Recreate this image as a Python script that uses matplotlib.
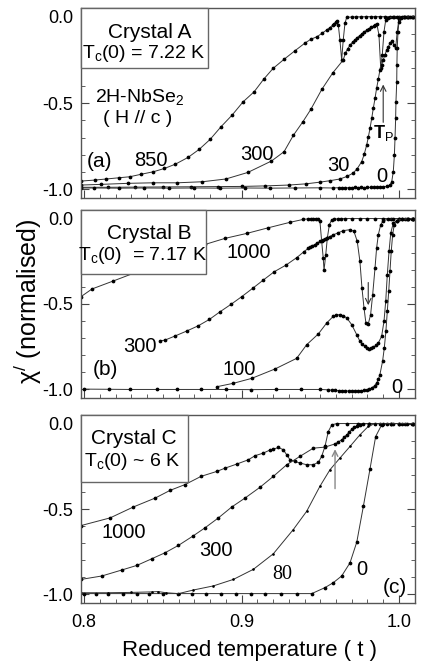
import matplotlib
matplotlib.use("Agg")
import matplotlib.pyplot as plt
from matplotlib.ticker import MultipleLocator
from matplotlib.patches import Rectangle

# === FUENTES ===
plt.rcParams['font.family'] = ['Liberation Sans', 'DejaVu Sans']
plt.rcParams['mathtext.fontset'] = 'custom'
plt.rcParams['mathtext.rm'] = 'Liberation Sans'
plt.rcParams['mathtext.it'] = 'Liberation Sans:italic'

# === DATOS: panel (a) Crystal A ===
a850_t = [0.798, 0.807, 0.814, 0.822, 0.829, 0.836, 0.844, 0.851, 0.858, 0.866, 0.873, 0.880,
          0.887, 0.894, 0.901, 0.908, 0.914, 0.920, 0.927, 0.934, 0.940, 0.944, 0.948, 0.951,
          0.954, 0.956, 0.958, 0.959, 0.960, 0.9608, 0.9615, 0.9625, 0.9636, 0.9646, 0.9657,
          0.9668, 0.970, 0.973, 0.976, 0.979, 0.982, 0.985, 0.988, 0.991, 0.994, 0.997, 1.000,
          1.003, 1.006, 1.009]
a850_x = [-0.952, -0.946, -0.940, -0.933, -0.927, -0.913, -0.898, -0.879, -0.854, -0.815, -0.769,
          -0.711, -0.637, -0.570, -0.493, -0.435, -0.363, -0.300, -0.247, -0.197, -0.155, -0.131,
          -0.116, -0.097, -0.078, -0.064, -0.049, -0.040, -0.030, -0.024, -0.050, -0.135, -0.251,
          -0.135, -0.039, -0.004, -0.002, -0.001, -0.001, 0.0, 0.0, 0.0, 0.0, 0.0, 0.0, 0.0, 0.0,
          0.0, 0.0, 0.0]

a300_t = [0.798, 0.811, 0.828, 0.844, 0.859, 0.875, 0.890, 0.904, 0.919, 0.927, 0.933, 0.939,
          0.944, 0.951, 0.958, 0.9646, 0.966, 0.9675, 0.969, 0.9705, 0.972, 0.9735, 0.975, 0.9765,
          0.978, 0.9795, 0.981, 0.9825, 0.984, 0.985, 0.986, 0.9873, 0.9884, 0.9894, 0.9905,
          0.9916, 0.9932, 0.996, 0.999, 1.002, 1.005, 1.008]
a300_x = [-0.975, -0.971, -0.965, -0.962, -0.962, -0.956, -0.940, -0.902, -0.836, -0.782, -0.686,
          -0.608, -0.537, -0.421, -0.325, -0.251, -0.210, -0.185, -0.164, -0.148, -0.135, -0.122,
          -0.110, -0.099, -0.088, -0.078, -0.069, -0.061, -0.053, -0.048, -0.044, -0.107, -0.295,
          -0.222, -0.087, -0.020, -0.006, -0.003, -0.002, -0.001, 0.0, 0.0]

a30_t = [0.798, 0.815, 0.832, 0.850, 0.868, 0.885, 0.900, 0.915, 0.930, 0.941, 0.950, 0.956,
         0.9625, 0.967, 0.971, 0.9735, 0.9763, 0.978, 0.9795, 0.9806, 0.9816, 0.9827, 0.9837,
         0.9848, 0.9858, 0.9869, 0.9879, 0.989, 0.990, 0.9911, 0.9922, 0.9933, 0.9943, 0.9957,
         0.9970, 0.9979, 0.9989, 1.000, 1.003, 1.006, 1.009]
a30_x = [-0.988, -0.988, -0.987, -0.986, -0.985, -0.984, -0.983, -0.980, -0.975, -0.968, -0.958,
         -0.950, -0.940, -0.925, -0.905, -0.880, -0.840, -0.795, -0.743, -0.695, -0.647, -0.589,
         -0.531, -0.473, -0.415, -0.362, -0.309, -0.280, -0.251, -0.222, -0.193, -0.174, -0.155,
         -0.141, -0.164, -0.184, -0.087, -0.014, -0.003, -0.001, 0.0]

a0_t = [0.798, 0.806, 0.822, 0.838, 0.854, 0.870, 0.886, 0.902, 0.918, 0.934, 0.950, 0.958,
        0.962, 0.964, 0.966, 0.968, 0.970, 0.972, 0.974, 0.976, 0.978, 0.980, 0.982, 0.984,
        0.986, 0.988, 0.990, 0.9922, 0.9943, 0.9954, 0.9964, 0.9971, 0.9975, 0.9979, 0.9981,
        0.9986, 0.9987, 0.9989, 0.9994, 1.000, 1.0013, 1.004, 1.007, 1.010]
a0_x = [-0.992, -0.992, -0.993, -0.992, -0.993, -0.992, -0.993, -0.992, -0.993, -0.992, -0.991,
        -0.992, -0.990, -0.991, -0.990, -0.991, -0.990, -0.989, -0.990, -0.989, -0.990, -0.988,
        -0.989, -0.988, -0.987, -0.987, -0.985, -0.983, -0.975, -0.956, -0.898, -0.801, -0.705,
        -0.589, -0.493, -0.377, -0.280, -0.184, -0.087, -0.030, -0.010, -0.003, -0.001, 0.0]

# === DATOS: panel (b) Crystal B ===
b1000_t = [0.798, 0.805, 0.8186, 0.840, 0.860, 0.877, 0.8895, 0.9033, 0.917, 0.9308, 0.9392,
           0.942, 0.944, 0.9456, 0.947, 0.9485, 0.9498, 0.9509, 0.9519, 0.9524, 0.9535, 0.9545,
           0.9558, 0.9573, 0.959, 0.961, 0.963, 0.966, 0.970, 0.975, 0.980, 0.985, 0.990, 0.995,
           1.000, 1.005, 1.009]
b1000_x = [-0.457, -0.412, -0.365, -0.290, -0.220, -0.151, -0.116, -0.087, -0.054, -0.022, -0.005,
           -0.002, -0.001, 0.0, 0.0, -0.002, -0.017, -0.133, -0.231, -0.303, -0.211, -0.114,
           -0.036, -0.007, -0.003, -0.002, -0.001, 0.0, 0.0, 0.0, 0.0, 0.0, 0.0, 0.0, 0.0, 0.0, 0.0]

b300_t = [0.8483, 0.8514, 0.8578, 0.8652, 0.8726, 0.8796, 0.8864, 0.8933, 0.9001, 0.9071, 0.9138,
          0.9208, 0.9283, 0.935, 0.9395, 0.9424, 0.9435, 0.945, 0.9465, 0.948, 0.9498, 0.9515,
          0.953, 0.9545, 0.956, 0.9583, 0.961, 0.9646, 0.9689, 0.9714, 0.9735, 0.9752, 0.9765,
          0.9778, 0.979, 0.9805, 0.982, 0.9833, 0.9848, 0.9858, 0.9869, 0.9884, 0.990, 0.993,
          0.996, 1.000, 1.004, 1.008]
b300_x = [-0.716, -0.711, -0.687, -0.658, -0.627, -0.590, -0.545, -0.502, -0.457, -0.408, -0.360,
          -0.311, -0.272, -0.229, -0.195, -0.174, -0.168, -0.160, -0.152, -0.145, -0.133, -0.125,
          -0.118, -0.112, -0.106, -0.095, -0.085, -0.071, -0.065, -0.075, -0.133, -0.250, -0.406,
          -0.523, -0.611, -0.617, -0.562, -0.446, -0.289, -0.173, -0.095, -0.036, -0.013, -0.005,
          -0.002, 0.0, 0.0, 0.0]

b100_t = [0.8843, 0.8948, 0.9065, 0.9213, 0.935, 0.9414, 0.9488, 0.9541, 0.9583, 0.960, 0.9625,
          0.9645, 0.9668, 0.970, 0.9732, 0.9752, 0.9768, 0.9784, 0.980, 0.981, 0.9825, 0.9837,
          0.9855, 0.9869, 0.989, 0.9905, 0.9916, 0.9926, 0.9937, 0.9948, 0.9964, 0.9986, 1.002,
          1.006, 1.009]
b100_x = [-0.984, -0.964, -0.935, -0.880, -0.818, -0.738, -0.675, -0.611, -0.572, -0.565, -0.562,
          -0.568, -0.581, -0.621, -0.680, -0.718, -0.735, -0.747, -0.757, -0.763, -0.760, -0.753,
          -0.742, -0.728, -0.689, -0.601, -0.484, -0.329, -0.192, -0.085, -0.026, -0.013, -0.005,
          -0.002, 0.0]

b0_t = [0.800, 0.816, 0.829, 0.846, 0.859, 0.874, 0.890, 0.906, 0.922, 0.938, 0.950, 0.955,
        0.9573, 0.9595, 0.962, 0.964, 0.966, 0.968, 0.970, 0.972, 0.974, 0.976, 0.978, 0.9795,
        0.981, 0.9827, 0.9845, 0.9858, 0.987, 0.9879, 0.9896, 0.9907, 0.9917, 0.9926, 0.9935,
        0.9943, 0.9951, 0.996, 0.997, 0.9989, 1.002, 1.006, 1.009]
b0_x = [-0.998, -0.999, -1.0, -1.0, -1.0, -1.0, -1.0, -1.001, -1.0, -1.0, -1.0, -1.002, -1.004,
        -1.006, -1.007, -1.008, -1.008, -1.009, -1.009, -1.009, -1.008, -1.008, -1.006, -1.004,
        -1.0, -0.991, -0.978, -0.962, -0.940, -0.913, -0.835, -0.757, -0.660, -0.543, -0.426,
        -0.309, -0.192, -0.095, -0.036, -0.013, -0.003, -0.001, 0.0]

# === DATOS: panel (c) Crystal C ===
c1000_t = [0.798, 0.8165, 0.8313, 0.8451, 0.8546, 0.8641, 0.8743, 0.8843, 0.8895, 0.897, 0.9043,
           0.9086, 0.9138, 0.918, 0.9202, 0.9234, 0.9265, 0.9287, 0.9308, 0.934, 0.9371, 0.9414,
           0.9456, 0.9488, 0.9509, 0.953, 0.9551, 0.9573, 0.9604, 0.967, 0.974, 0.981, 0.988,
           0.995, 1.002, 1.009]
c1000_x = [-0.597, -0.552, -0.488, -0.436, -0.391, -0.357, -0.309, -0.280, -0.261, -0.237, -0.212,
           -0.188, -0.173, -0.155, -0.150, -0.140, -0.153, -0.183, -0.212, -0.222, -0.231, -0.241,
           -0.241, -0.227, -0.192, -0.134, -0.047, -0.008, 0.0, 0.0, 0.0, 0.0, 0.0, 0.0, 0.0, 0.0]

c300_t = [0.798, 0.8112, 0.8239, 0.8335, 0.843, 0.8514, 0.8599, 0.869, 0.8768, 0.8853, 0.8938,
          0.9022, 0.9117, 0.9202, 0.9287, 0.9371, 0.9456, 0.953, 0.9594, 0.9615, 0.9636, 0.9652,
          0.9668, 0.9684, 0.970, 0.9716, 0.9732, 0.9753, 0.9774, 0.981, 0.985, 0.990, 0.995,
          1.000, 1.005, 1.009]
c300_x = [-0.912, -0.892, -0.857, -0.830, -0.791, -0.756, -0.713, -0.659, -0.610, -0.552, -0.488,
          -0.436, -0.373, -0.309, -0.241, -0.192, -0.144, -0.138, -0.119, -0.108, -0.095, -0.081,
          -0.066, -0.050, -0.033, -0.022, -0.014, -0.007, -0.002, 0.0, 0.0, 0.0, 0.0, 0.0, 0.0, 0.0]

c80_t = [0.798, 0.815, 0.830, 0.843, 0.847, 0.852, 0.860, 0.8694, 0.8821, 0.8948, 0.9075, 0.9202,
         0.9329, 0.9414, 0.9498, 0.9562, 0.9625, 0.9689, 0.9752, 0.9805, 0.9848, 0.990, 0.995,
         1.000, 1.005, 1.009]
c80_x = [-0.990, -0.990, -0.988, -0.985, -0.983, -0.990, -0.995, -0.974, -0.950, -0.912, -0.853,
         -0.762, -0.620, -0.513, -0.367, -0.270, -0.202, -0.134, -0.066, -0.017, 0.0, 0.0, 0.0,
         0.0, 0.0, 0.0]

c0_t = [0.800, 0.8075, 0.815, 0.8245, 0.8335, 0.841, 0.850, 0.8595, 0.8685, 0.8775, 0.887, 0.8965,
        0.906, 0.915, 0.925, 0.935, 0.9446, 0.953, 0.9583, 0.9636, 0.9689, 0.9732, 0.9774, 0.9816,
        0.9852, 0.989, 0.9922, 0.996, 1.000, 1.004, 1.008]
c0_x = [-0.995, -0.995, -0.995, -0.995, -0.995, -0.995, -0.995, -0.995, -0.995, -0.995, -0.995,
        -0.995, -0.995, -0.995, -0.995, -0.995, -0.995, -0.960, -0.931, -0.892, -0.815, -0.694,
        -0.484, -0.266, -0.076, -0.008, 0.0, 0.0, 0.0, 0.0, 0.0]

# flechas (cola, punta) en (t, chi)
arrow_a = [(0.990, -0.628), (0.990, -0.377)]
arrow_b = [(0.9805, -0.358), (0.9805, -0.523)]
arrow_c = [(0.9594, -0.397), (0.9594, -0.134)]

xticks = [0.8, 0.9, 1.0]
xtick_labels = ['0.8', '0.9', '1.0']
yticks = [0.0, -0.5, -1.0]
ytick_labels = ['0.0', '-0.5', '-1.0']

# === FIGURA ===
fig = plt.figure(figsize=(4.21, 6.65), dpi=100)
W, H = 421, 665


def add_panel(top, bottom):
    return fig.add_axes([81 / W, 1 - bottom / H, (415 - 81) / W, (bottom - top) / H])


ax_a = add_panel(8, 198)
ax_b = add_panel(210, 398)
ax_c = add_panel(415, 603)

line_kw = dict(color='#333333', lw=0.7, marker='o', ms=1.7, mfc='black', mec='black', zorder=2)

for ax in (ax_a, ax_b, ax_c):
    ax.set_xlim(0.798, 1.0102)
    ax.set_ylim(-1.05, 0.05)
    ax.set_xticks(xticks)
    ax.set_yticks(yticks)
    ax.set_yticklabels(ytick_labels, fontsize=13)
    ax.xaxis.set_minor_locator(MultipleLocator(0.01))
    ax.yaxis.set_minor_locator(MultipleLocator(0.1))
    ax.tick_params(which='both', direction='in', top=False, right=True, color='#444444')
    ax.tick_params(which='major', length=6, width=0.8)
    ax.tick_params(which='minor', length=3, width=0.6)
    ax.tick_params(axis='y', which='major', pad=5.5)
    ax.tick_params(axis='x', which='major', pad=8)
    for s in ax.spines.values():
        s.set_color('#555555')
        s.set_linewidth(1.0)

ax_a.set_xticklabels([])
ax_b.set_xticklabels([])
ax_c.set_xticklabels(xtick_labels, fontsize=13)

# --- panel (a) ---
for t, x in [(a850_t, a850_x), (a300_t, a300_x), (a30_t, a30_x), (a0_t, a0_x)]:
    ax_a.plot(t, x, **line_kw)

# --- panel (b) ---
for t, x in [(b1000_t, b1000_x), (b300_t, b300_x), (b100_t, b100_x), (b0_t, b0_x)]:
    ax_b.plot(t, x, **line_kw)

# --- panel (c) ---
for t, x in [(c1000_t, c1000_x), (c300_t, c300_x), (c0_t, c0_x)]:
    ax_c.plot(t, x, **line_kw)
ax_c.plot(c80_t, c80_x, color='#333333', lw=0.7, marker='o', ms=0.9, mfc='black', mec='black')


def box(ax, w, y0):
    ax.add_patch(Rectangle((0, y0), w, 1 - y0, transform=ax.transAxes, facecolor='white',
                           edgecolor='#666666', lw=1.0, zorder=3, clip_on=False))


def label(ax, x, y, s, size=15, va='center', **kw):
    ax.text(x, y, s, transform=ax.transAxes, ha='center', va=va, fontsize=size,
            zorder=4, **kw)


# textos panel (a)
box(ax_a, 0.380, 0.683)
label(ax_a, 0.206, 0.840, 'Crystal A', va='baseline')
label(ax_a, 0.189, 0.735, r'T$_\mathrm{c}$(0) = 7.22 K', size=14, va='baseline')
label(ax_a, 0.176, 0.507, r'2H-NbSe$_\mathrm{2}$', size=14, va='baseline')
label(ax_a, 0.171, 0.393, '( H // c )', size=14, va='baseline')
label(ax_a, 0.054, 0.191, '(a)')
label(ax_a, 0.210, 0.196, '850', size=14.5)
label(ax_a, 0.526, 0.229, '300', size=14.5)
label(ax_a, 0.770, 0.170, '30', size=14.5)
label(ax_a, 0.900, 0.112, '0', size=14.5)
label(ax_a, 0.905, 0.340, r'T$_\mathrm{P}$', size=13, fontweight='bold')
ax_a.annotate('', xy=arrow_a[1], xytext=arrow_a[0],
              arrowprops=dict(arrowstyle='->', color='#333333', lw=0.8))

# textos panel (b)
box(ax_b, 0.374, 0.660)
label(ax_b, 0.206, 0.847, 'Crystal B', va='baseline')
label(ax_b, 0.183, 0.732, r'T$_\mathrm{c}$(0)  = 7.17 K', size=14, va='baseline')
label(ax_b, 0.501, 0.775, '1000', size=14.5)
label(ax_b, 0.177, 0.273, '300', size=14.5)
label(ax_b, 0.074, 0.149, '(b)')
label(ax_b, 0.473, 0.154, '100', size=14.5)
label(ax_b, 0.947, 0.057, '0', size=14.5)
ax_b.annotate('', xy=arrow_b[1], xytext=arrow_b[0],
              arrowprops=dict(arrowstyle='->', color='#333333', lw=0.8))

# textos panel (c)
box(ax_c, 0.321, 0.645)
label(ax_c, 0.159, 0.846, 'Crystal C', va='baseline')
label(ax_c, 0.154, 0.729, r'T$_\mathrm{c}$(0) ~ 6 K', size=14, va='baseline')
label(ax_c, 0.127, 0.376, '1000', size=14.5)
label(ax_c, 0.403, 0.278, '300', size=14.5)
label(ax_c, 0.603, 0.154, '80', size=14.5, family='Liberation Serif')
label(ax_c, 0.840, 0.176, '0', size=14.5)
label(ax_c, 0.940, 0.084, '(c)')
ax_c.annotate('', xy=arrow_c[1], xytext=arrow_c[0],
              arrowprops=dict(arrowstyle='->', color='#888888', lw=1.0))

# === EJES ===
fig.text(250 / W, 1 - 656 / H, 'Reduced temperature ( t )', ha='center', va='baseline',
         fontsize=16)
fig.text(28 / W, 1 - 301 / H, r'χ$^{/}$ (normalised)', ha='center', va='center',
         rotation=90, fontsize=18)

fig.savefig('out.png', dpi=100)
